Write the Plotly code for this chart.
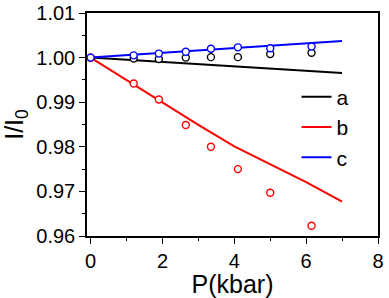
import plotly.graph_objects as go

# Measured points
P = [0, 1.2, 1.9, 2.65, 3.35, 4.1, 5.0, 6.15]
a_pts = [1.0, 0.9998, 0.9997, 1.0000, 1.0001, 1.0001, 1.0008, 1.0011]
b_pts = [1.0, 0.9942, 0.9906, 0.9849, 0.9800, 0.9750, 0.9697, 0.9623]
c_pts = [1.0, 1.0005, 1.0009, 1.0013, 1.0020, 1.0023, 1.0021, 1.0025]

# Fitted / calculated curves
P_fit = [0, 1, 2, 3, 4, 5, 6, 7]
a_fit = [1.0, 0.9995, 0.9990, 0.9985, 0.9980, 0.99755, 0.9970, 0.99655]
b_fit = [1.0, 0.9950, 0.9899, 0.9849, 0.9801, 0.9761, 0.9721, 0.9677]
c_fit = [1.0, 1.00053, 1.00106, 1.00159, 1.00212, 1.00265, 1.00318, 1.0037]

names = ["a", "b", "c"]
colors = ["#000000", "#ff0000", "#0000ff"]

fig = go.Figure()
for name, fit, col in zip(names, [a_fit, b_fit, c_fit], colors):
    fig.add_trace(go.Scatter(x=P_fit, y=fit, mode="lines", name=name,
                             line=dict(color=col, width=2)))
for name, pts, col in zip(names, [a_pts, b_pts, c_pts], colors):
    fig.add_trace(go.Scatter(x=P, y=pts, mode="markers", name=name + "_pts",
                             showlegend=False,
                             marker=dict(symbol="circle", size=7, color="white",
                                         line=dict(color=col, width=1.4))))

font = "Liberation Sans, Arial, sans-serif"
axis_common = dict(showline=True, linecolor="black", linewidth=1.5, mirror=True,
                   ticks="outside", ticklen=6, tickwidth=1.3, tickcolor="black",
                   showgrid=False, zeroline=False, automargin=False,
                   tickfont=dict(family=font, size=20, color="black"))

fig.update_layout(
    width=389, height=298,
    margin=dict(l=87, r=11, t=13, b=62),
    paper_bgcolor="white", plot_bgcolor="white",
    showlegend=True,
    legend=dict(x=0.72, y=0.715, xanchor="left", yanchor="top",
                bgcolor="rgba(0,0,0,0)", font=dict(family=font, size=21, color="black"),
                tracegroupgap=0, itemwidth=30),
    xaxis=dict(range=[-0.1, 8], tickvals=[0, 2, 4, 6, 8],
               minor=dict(dtick=1, tick0=0, ticks="outside", ticklen=3, tickcolor="black"),
               title=dict(text="P(kbar)", font=dict(family=font, size=25, color="black"),
                          standoff=3),
               **axis_common),
    yaxis=dict(range=[0.96, 1.01], tickvals=[0.96, 0.97, 0.98, 0.99, 1.00, 1.01],
               ticktext=["0.96", "0.97", "0.98", "0.99", "1.00", "1.01"],
               minor=dict(dtick=0.005, tick0=0.96, ticks="outside", ticklen=3, tickcolor="black"),
               title=dict(text="I/I<sub>0</sub>", font=dict(family=font, size=25, color="black"),
                          standoff=12),
               **axis_common),
)

fig.write_html("out.html", config={"displayModeBar": False},
               post_script="document.body.style.margin='0';")
